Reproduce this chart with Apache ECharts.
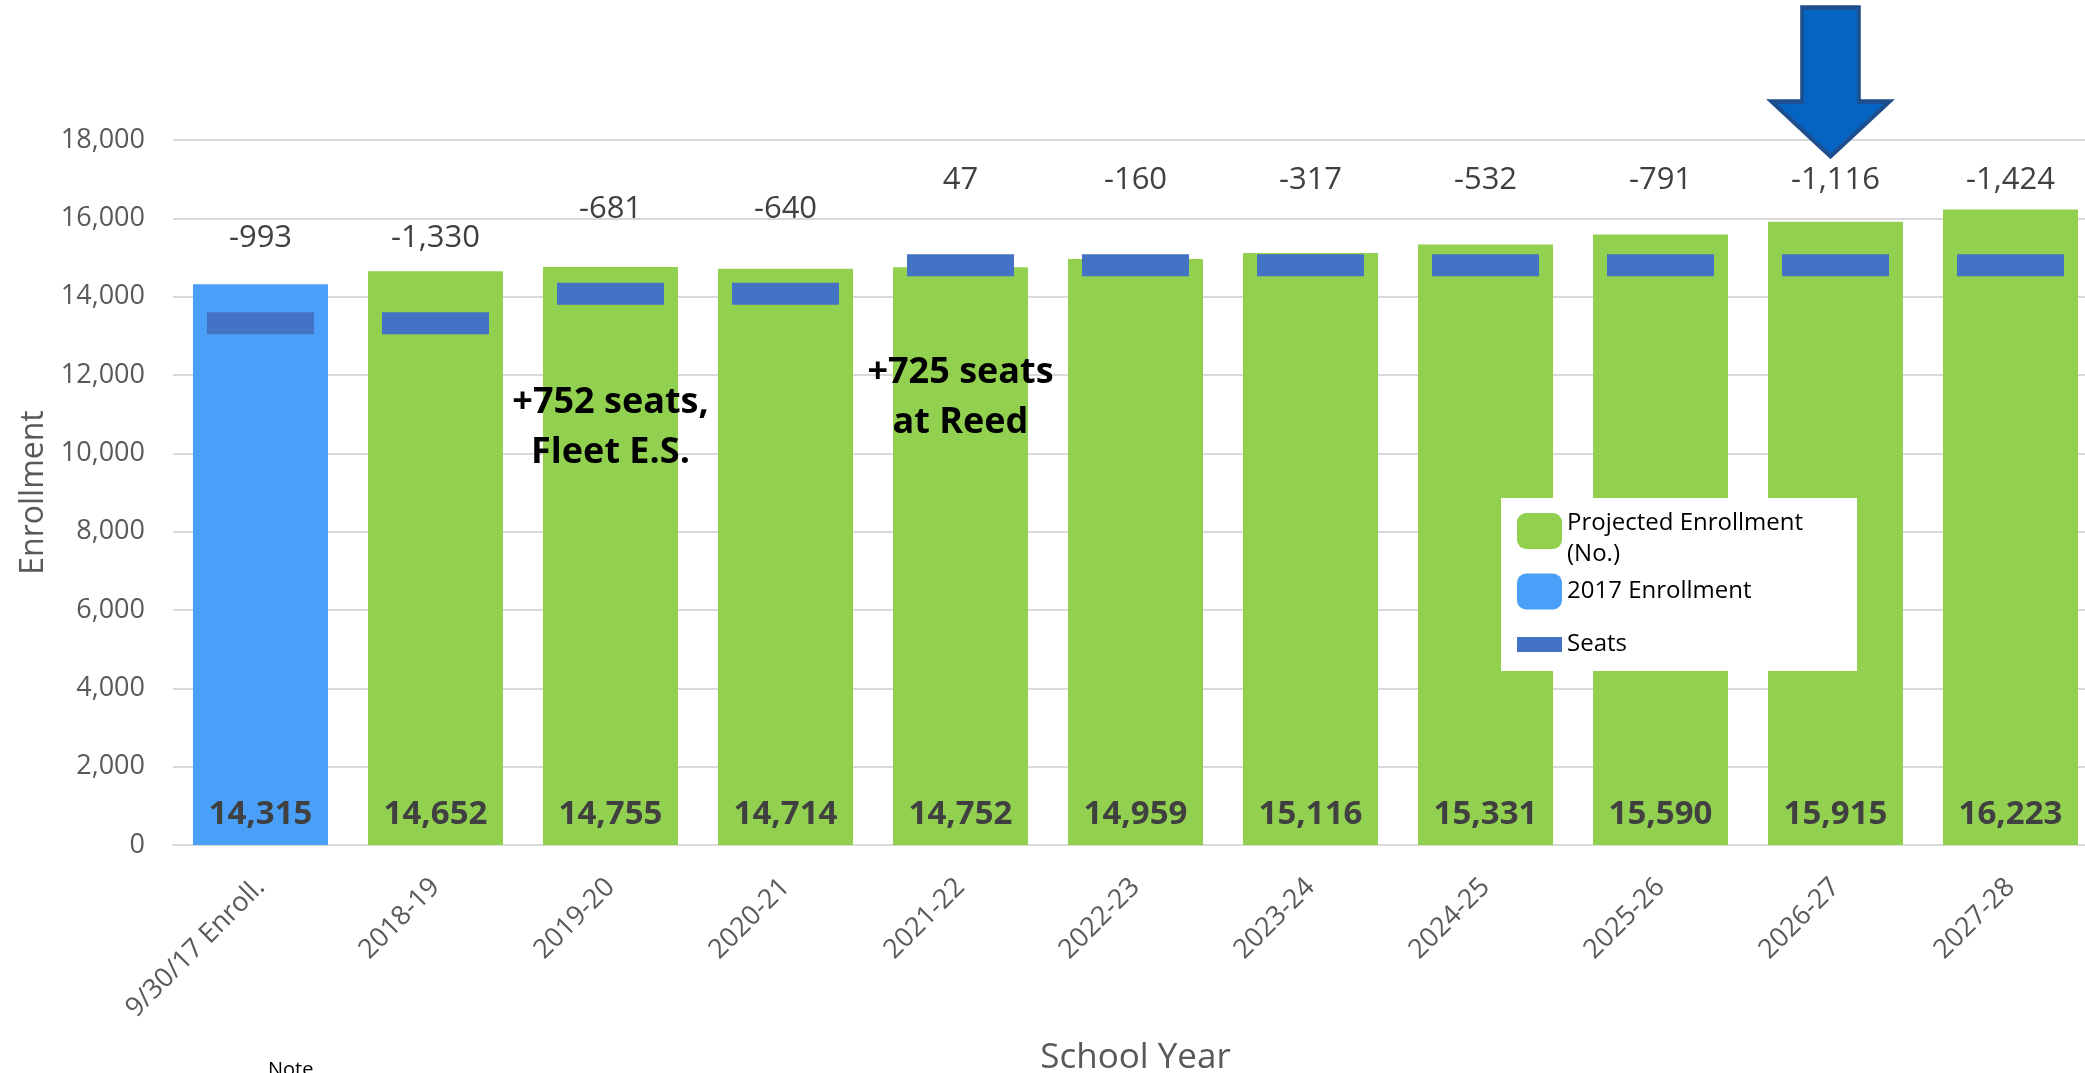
<!DOCTYPE html>
<html>
<head>
  <meta charset="utf-8">
  <title>Enrollment vs Seats</title>
  <script src="https://cdn.jsdelivr.net/npm/echarts@6/dist/echarts.min.js"></script>
  <style>
    html, body { margin: 0; padding: 0; background: #fff; }
  </style>
</head>
<body>
  <div id="main" style="width: 2085px;height:1073px;"></div>
  <script type="text/javascript">
    // chart data
    var categories = ['9/30/17 Enroll.', '2018-19', '2019-20', '2020-21', '2021-22', '2022-23',
                      '2023-24', '2024-25', '2025-26', '2026-27', '2027-28'];
    var enroll2017 = [14315, '-', '-', '-', '-', '-', '-', '-', '-', '-', '-'];
    var projected  = ['-', 14652, 14755, 14714, 14752, 14959, 15116, 15331, 15590, 15915, 16223];
    var seats      = [13322, 13322, 14074, 14074, 14799, 14799, 14799, 14799, 14799, 14799, 14799];
    var seatGap    = [-993, -1330, -681, -640, 47, -160, -317, -532, -791, -1116, -1424];

    // notes placed on the chart
    var noteCats   = ['2019-20', '2021-22'];
    var noteValues = [10650, 11420];
    var noteTexts  = ['+752 seats,\nFleet E.S.', '+725 seats\nat Reed'];
    var arrowCat   = '2026-27';

    var FONT = '"Open Sans", sans-serif';
    var fmt = function (v) { return Number(v).toLocaleString('en-US'); };

    var myChart = echarts.init(document.getElementById('main'));

    var barLabel = {
      show: true,
      position: 'insideBottom',
      distance: 14,
      fontFamily: FONT,
      fontSize: 33,
      fontWeight: 'bold',
      color: '#404040',
      formatter: function (p) { return fmt(p.value); }
    };

    var option = {
      animation: false,
      backgroundColor: '#fff',
      textStyle: { fontFamily: FONT },
      grid: {
        left: 173,
        top: 140,
        width: 1925,
        bottom: 228,
        containLabel: false,
        outerBoundsMode: 'none'
      },
      legend: {
        orient: 'vertical',
        left: 1517,
        top: 495,
        padding: 0,
        itemWidth: 45,
        itemHeight: 36,
        itemGap: 7,
        textStyle: {
          fontFamily: FONT,
          fontSize: 24,
          color: '#000',
          rich: {
            sp: { fontSize: 10, lineHeight: 16 },
            t: { fontFamily: FONT, fontSize: 24, color: '#000', lineHeight: 31 }
          }
        },
        formatter: function (name) {
          // first entry wraps onto two lines, pushed a bit down against its swatch
          return name === 'Projected Enrollment (No.)'
            ? '{sp| }\n{t|Projected Enrollment}\n{t|(No.)}'
            : name;
        },
        data: [
          { name: 'Projected Enrollment (No.)' },
          { name: '2017 Enrollment', textStyle: { lineHeight: 36 } },
          { name: 'Seats', icon: 'path://M0,0H30V10H0Z', textStyle: { lineHeight: 56 } }
        ]
      },
      xAxis: {
        type: 'category',
        data: categories,
        name: 'School Year',
        nameLocation: 'middle',
        nameGap: 196,
        nameTextStyle: { fontFamily: FONT, fontSize: 35, color: '#595959' },
        axisTick: { show: false },
        axisLine: { lineStyle: { color: '#D9D9D9', width: 2 } },
        axisLabel: {
          rotate: 45,
          margin: 38,
          interval: 0,
          fontFamily: FONT,
          fontSize: 27,
          color: '#595959'
        }
      },
      yAxis: {
        type: 'value',
        min: 0,
        max: 18000,
        interval: 2000,
        name: 'Enrollment',
        nameLocation: 'middle',
        nameGap: 112,
        nameTextStyle: { fontFamily: FONT, fontSize: 32, color: '#595959' },
        axisLine: { show: false },
        axisTick: { show: false },
        splitLine: { lineStyle: { color: '#D9D9D9', width: 2 } },
        axisLabel: {
          margin: 28,
          fontFamily: FONT,
          fontSize: 27,
          color: '#595959',
          formatter: function (v) { return fmt(v); }
        }
      },
      series: [
        {
          name: 'Projected Enrollment (No.)',
          type: 'bar',
          stack: 'enr',
          barWidth: 135,
          itemStyle: { color: '#92D050' },
          label: barLabel,
          data: projected,
          markPoint: {
            silent: true,
            data: [
              {
                coord: [arrowCat, 18000],
                symbol: 'path://M31,0H89V94H120L60,149L0,94H31Z',
                symbolSize: [118, 149],
                symbolOffset: [-5, -58],
                itemStyle: { color: '#0563C1', borderColor: '#1F4E8C', borderWidth: 4 },
                label: { show: false }
              }
            ].concat(noteCats.map(function (c, i) {
              return {
                coord: [c, noteValues[i]],
                symbol: 'rect',
                symbolSize: 1,
                itemStyle: { color: 'rgba(0,0,0,0)' },
                label: {
                  show: true,
                  position: 'inside',
                  formatter: noteTexts[i],
                  fontFamily: FONT,
                  fontSize: 36,
                  fontWeight: 'bold',
                  lineHeight: 50,
                  color: '#000'
                }
              };
            }))
          }
        },
        {
          name: '2017 Enrollment',
          type: 'bar',
          stack: 'enr',
          barWidth: 135,
          itemStyle: { color: '#4AA0F8' },
          label: barLabel,
          data: enroll2017
        },
        {
          name: 'Seats',
          type: 'scatter',
          symbol: 'rect',
          symbolSize: [107, 22],
          z: 5,
          itemStyle: { color: '#4472C4', opacity: 1 },
          label: {
            show: true,
            position: 'inside',
            offset: [0, -85],
            fontFamily: FONT,
            fontSize: 31,
            color: '#404040',
            formatter: function (p) { return fmt(seatGap[p.dataIndex]); }
          },
          data: seats
        }
      ],
      graphic: [
        {
          // legend box
          type: 'rect',
          z: 3,
          shape: { x: 1501, y: 498, width: 356, height: 173 },
          style: { fill: '#fff' }
        },
        {
          type: 'text',
          left: 268,
          top: 1060,
          style: { text: 'Note', fontFamily: FONT, fontSize: 20, fill: '#000' }
        }
      ]
    };
    myChart.setOption(option);
  </script>
</body>
</html>
